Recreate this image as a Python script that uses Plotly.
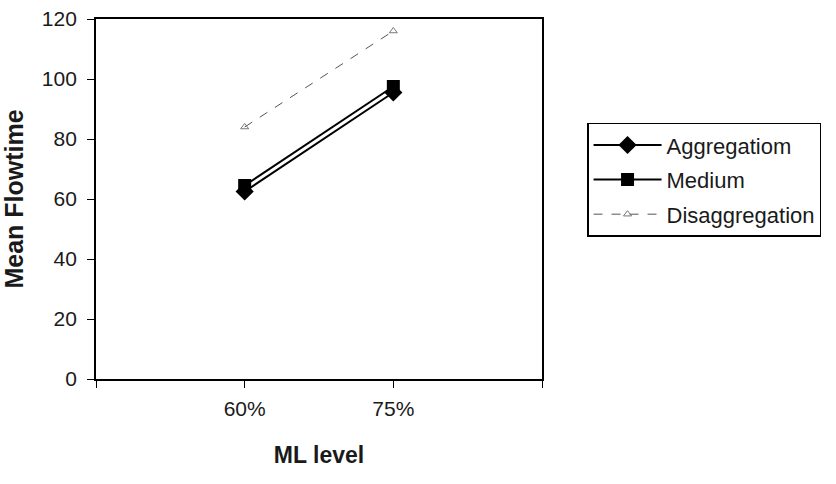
import plotly.graph_objects as go

categories = ["60%", "75%"]
aggregation = [62.5, 95.5]
medium = [64.5, 97.5]
disaggregation = [84, 116]

xpos = list(range(len(categories)))
FONT = "Liberation Sans, Arial, sans-serif"

fig = go.Figure()
fig.add_trace(go.Scatter(
    x=xpos, y=aggregation, name="Aggregatiom", mode="lines+markers",
    legendgroup="a",
    line=dict(color="black", width=2),
    marker=dict(symbol="diamond", size=14, color="black")))
fig.add_trace(go.Scatter(
    x=xpos, y=medium, name="Medium", mode="lines+markers",
    legendgroup="b",
    line=dict(color="black", width=2),
    marker=dict(symbol="square", size=13, color="black")))
fig.add_trace(go.Scatter(
    x=xpos, y=disaggregation, name="Disaggregation", mode="lines+markers",
    legendgroup="c",
    line=dict(color="#555555", width=1, dash="dash"),
    marker=dict(symbol="triangle-up-open", size=7, color="#777777",
                line=dict(width=1))))

fig.update_layout(
    width=836, height=484,
    margin=dict(l=96, r=294, t=19, b=105),
    paper_bgcolor="white", plot_bgcolor="white",
    font=dict(family=FONT, size=21, color="#1a1a1a"),
    legend=dict(x=1.101, y=0.712, xanchor="left", yanchor="top",
                bordercolor="black", borderwidth=1.5,
                font=dict(size=22, family=FONT), itemwidth=68,
                tracegroupgap=3),
    xaxis=dict(range=[-1, 2], tickvals=[-1, 0, 1, 2],
               ticktext=[""] + categories + [""],
               automargin="bottom",
               showline=True, linecolor="black", linewidth=1.8, mirror=True,
               ticks="outside", ticklen=7, tickcolor="black", tickwidth=1.2,
               ticklabelstandoff=3,
               showgrid=False, zeroline=False,
               title=dict(text="<b>ML level</b>", font=dict(size=23), standoff=28)),
    yaxis=dict(range=[0, 120], dtick=20,
               automargin="left",
               showline=True, linecolor="black", linewidth=1.8, mirror=True,
               ticks="outside", ticklen=7, tickcolor="black", tickwidth=1.2,
               ticklabelstandoff=6,
               showgrid=False, zeroline=False,
               title=dict(text="<b>Mean Flowtime</b>", font=dict(size=25), standoff=12)),
)

fig.write_html("out.html")
